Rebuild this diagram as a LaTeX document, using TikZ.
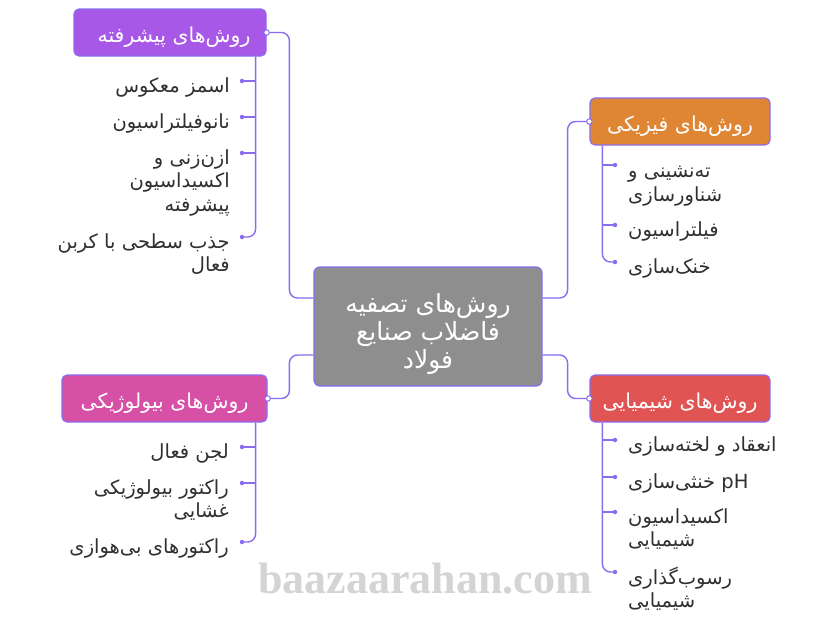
\documentclass[tikz,border=0pt]{standalone}
\usepackage{fontspec}
\TeXXeTstate=1
\newfontfamily\fa[Script=Arabic]{DejaVu Sans}
\newfontfamily\wmfont{Liberation Serif}
\newcommand{\RL}[1]{\strut\beginR#1\endR}
\newcommand{\TL}[1]{\rule{0pt}{24pt}\beginR#1\endR}
\definecolor{linec}{RGB}{138,108,240}
\definecolor{grayc}{RGB}{142,142,142}
\definecolor{advc}{RGB}{168,88,230}
\definecolor{physc}{RGB}{222,134,52}
\definecolor{chemc}{RGB}{224,84,84}
\definecolor{bioc}{RGB}{214,80,166}
\definecolor{txtc}{RGB}{48,48,48}
\definecolor{wmc}{RGB}{212,212,212}
\begin{document}
\begin{tikzpicture}[x=1pt,y=-1pt,
  title/.style={draw=linec, line width=1.2pt, rounded corners=5pt, text=white,
    font=\fa\fontsize{20.5}{24}\selectfont, minimum height=47pt, inner sep=0pt},
  conn/.style={draw=linec, line width=1.4pt, rounded corners=8pt},
  child/.style={inner sep=0pt, text=txtc, font=\fa\fontsize{19.5}{23.5}\selectfont},
  childL/.style={child, align=right, anchor=north east},
  childR/.style={child, align=left, anchor=north west},
  bdot/.style={circle, fill=linec, inner sep=0pt, minimum size=4.5pt},
  jdot/.style={circle, draw=linec, fill=white, line width=1pt, inner sep=0pt, minimum size=5.5pt}]
\useasboundingbox (0,0) rectangle (816,625);
\fill[white] (0,0) rectangle (816,625);

% watermark
\node[text=wmc, font=\wmfont\bfseries\fontsize{44}{44}\selectfont] (wm) at (425,579) {baazaarahan.com};

% central
\node[draw=linec, fill=grayc, rounded corners=6pt, line width=1.2pt,
  minimum width=228pt, minimum height=119pt, text=white, align=center,
  font=\fa\fontsize{25}{27}\selectfont] (c) at (428,326.5)
  {\rule{0pt}{36pt}\RL{روش^^^^200cهای تصفیه}\\\RL{فاضلاب صنایع}\\\RL{فولاد}};

% title boxes
\node[title, fill=advc, minimum width=192pt] (adv) at (170,32.5) {\hspace*{8pt}\TL{روش^^^^200cهای پیشرفته}};
\node[title, fill=physc, minimum width=180pt] (phys) at (680,121.5) {\TL{روش^^^^200cهای فیزیکی}};
\node[title, fill=chemc, minimum width=180pt] (chem) at (680,398.5) {\TL{روش^^^^200cهای شیمیایی}};
\node[title, fill=bioc, minimum width=205pt] (bio) at (164.5,398.5) {\TL{روش^^^^200cهای بیولوژیکی}};

% main connectors
\draw[conn] ([yshift=28.5pt]c.west) -- ++(-24,0) |- (adv.east);
\draw[conn] ([yshift=-28.5pt]c.west) -- ++(-24,0) |- (bio.east);
\draw[conn] ([yshift=28.5pt]c.east) -- ++(25,0) |- (phys.west);
\draw[conn] ([yshift=-28.5pt]c.east) -- ++(25,0) |- (chem.west);
\node[jdot] at (adv.east) {};
\node[jdot] at (bio.east) {};
\node[jdot] at (phys.west) {};
\node[jdot] at (chem.west) {};

% advanced children
\coordinate (abr) at ([xshift=-11pt]adv.south east);
\coordinate (da1) at (242,81);
\coordinate (da2) at (242,117);
\coordinate (da3) at (242,153);
\coordinate (da4) at (242,237);
\node[childL] (a1) at ([xshift=-12pt,yshift=5.5pt]da1) {\RL{اسمز معکوس}};
\node[childL] (a2) at ([xshift=-12pt,yshift=5.5pt]da2) {\RL{نانوفیلتراسیون}};
\node[childL] (a3) at ([xshift=-12pt,yshift=5.5pt]da3) {\RL{ازن^^^^200cزنی و}\\\RL{اکسیداسیون}\\\RL{پیشرفته}};
\node[childL] (a4) at ([xshift=-12pt,yshift=5.5pt]da4) {\RL{جذب سطحی با کربن}\\\RL{فعال}};
\draw[conn] (abr) |- (da4);
\foreach \d in {da1,da2,da3} \draw[conn] (\d -| abr) -- (\d);
\foreach \d in {da1,da2,da3,da4} \node[bdot] at (\d) {};

% physical children
\coordinate (pbr) at ([xshift=13pt]phys.south west);
\coordinate (dp1) at (615,165);
\coordinate (dp2) at (615,225);
\coordinate (dp3) at (615,262);
\node[childR] (p1) at ([xshift=13pt,yshift=4pt]dp1) {\RL{ته^^^^200cنشینی و}\\\RL{شناورسازی}};
\node[childR] (p2) at ([xshift=13pt,yshift=5.5pt]dp2) {\RL{فیلتراسیون}};
\node[childR] (p3) at ([xshift=13pt,yshift=5.5pt]dp3) {\RL{خنک^^^^200cسازی}};
\draw[conn] (pbr) |- (dp3);
\foreach \d in {dp1,dp2} \draw[conn] (\d -| pbr) -- (\d);
\foreach \d in {dp1,dp2,dp3} \node[bdot] at (\d) {};

% chemical children
\coordinate (cbr) at ([xshift=13pt]chem.south west);
\coordinate (dc1) at (615,440);
\coordinate (dc2) at (615,477);
\coordinate (dc3) at (615,512);
\coordinate (dc4) at (615,572);
\node[childR] (c1) at ([xshift=13pt,yshift=5.5pt]dc1) {\RL{انعقاد و لخته^^^^200cسازی}};
\node[childR] (c2) at ([xshift=13pt,yshift=5.5pt]dc2) {\RL{\beginL pH\endL{} خنثی^^^^200cسازی}};
\node[childR] (c3) at ([xshift=13pt,yshift=5.5pt]dc3) {\RL{اکسیداسیون}\\\RL{شیمیایی}};
\node[childR] (c4) at ([xshift=13pt,yshift=5.5pt]dc4) {\RL{رسوب^^^^200cگذاری}\\\RL{شیمیایی}};
\draw[conn] (cbr) |- (dc4);
\foreach \d in {dc1,dc2,dc3} \draw[conn] (\d -| cbr) -- (\d);
\foreach \d in {dc1,dc2,dc3,dc4} \node[bdot] at (\d) {};

% biological children
\coordinate (bbr) at ([xshift=-12pt]bio.south east);
\coordinate (db1) at (242,447);
\coordinate (db2) at (242,483);
\coordinate (db3) at (242,542);
\node[childL] (b1) at ([xshift=-13pt,yshift=5.5pt]db1) {\RL{لجن فعال}};
\node[childL] (b2) at ([xshift=-13pt,yshift=5.5pt]db2) {\RL{راکتور بیولوژیکی}\\\RL{غشایی}};
\node[childL] (b3) at ([xshift=-13pt,yshift=5.5pt]db3) {\RL{راکتورهای بی^^^^200cهوازی}};
\draw[conn] (bbr) |- (db3);
\foreach \d in {db1,db2} \draw[conn] (\d -| bbr) -- (\d);
\foreach \d in {db1,db2,db3} \node[bdot] at (\d) {};
\end{tikzpicture}
\end{document}
